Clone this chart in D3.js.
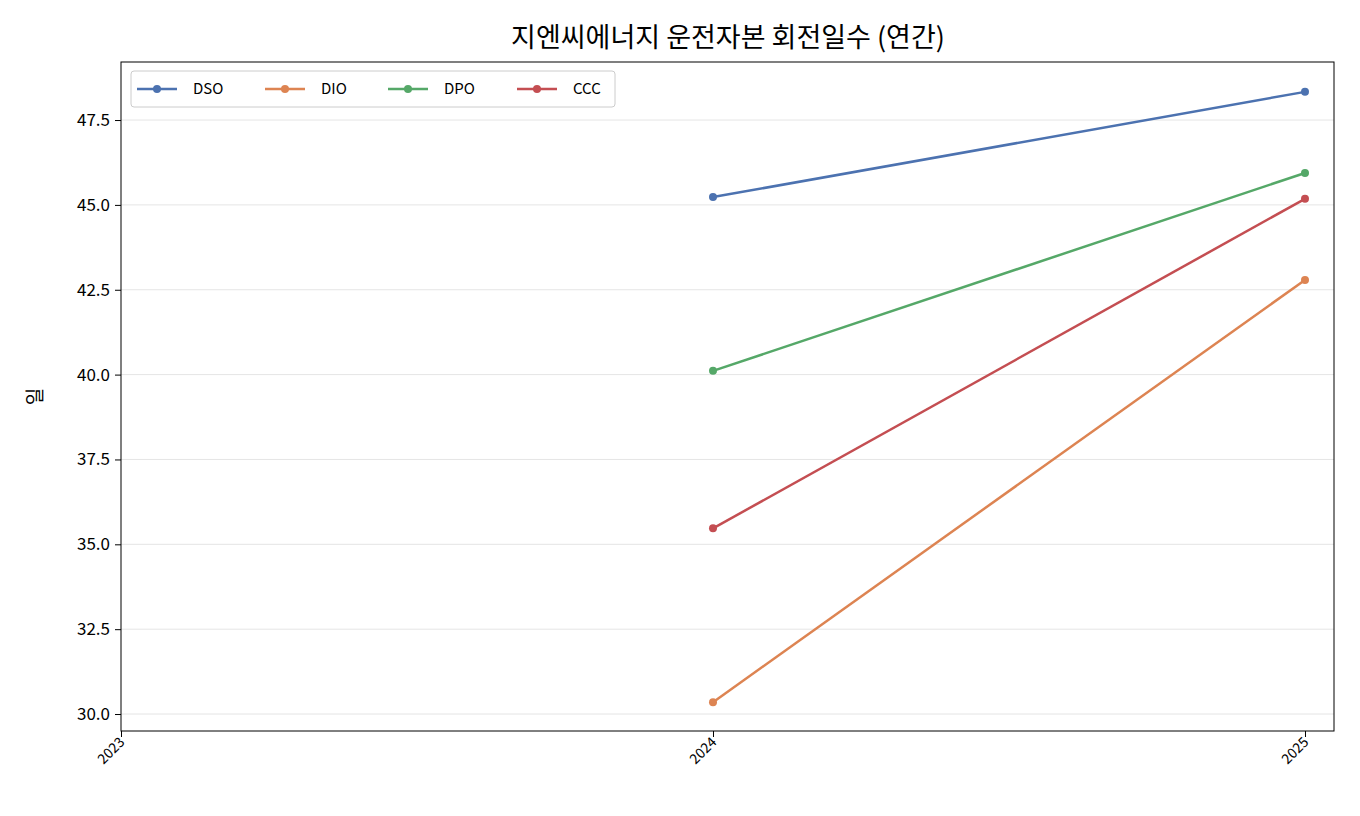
<!DOCTYPE html>
<html><head><meta charset="utf-8">
<script src="https://cdn.jsdelivr.net/npm/d3@7"></script>
<style>body{margin:0;background:#fff}text{font-family:"Noto Sans CJK KR","Noto Sans",sans-serif}</style>
</head><body><div id="chart"></div>
<script>
var years = [2024, 2025];
var xTicks = [2023, 2024, 2025];
var yTicks = [30.0, 32.5, 35.0, 37.5, 40.0, 42.5, 45.0, 47.5];
var seriesNames = ["DSO", "DIO", "DPO", "CCC"];
var seriesColors = ["#4c72b0", "#dd8452", "#55a868", "#c44e52"];
var dso = [45.23, 48.33];
var dio = [30.35, 42.79];
var dpo = [40.11, 45.94];
var ccc = [35.47, 45.18];
var seriesValues = [dso, dio, dpo, ccc];

var W = 1360, H = 816;
var margin = {top: 62, right: 26, bottom: 85, left: 121};
var svg = d3.select("#chart").append("svg").attr("width", W).attr("height", H);
var x = d3.scaleLinear().domain([2023, 2025.049]).range([margin.left, W - margin.right]);
var y = d3.scaleLinear().domain([29.5, 49.21]).range([H - margin.bottom, margin.top]);

//grid
svg.append("g").selectAll("line").data(yTicks).enter().append("line")
	.attr("x1", margin.left).attr("x2", W - margin.right)
	.attr("y1", y).attr("y2", y).attr("stroke", "#e5e5e5").attr("stroke-width", 1);

var xAxis = svg.append("g").attr("transform", "translate(0," + (H - margin.bottom) + ")")
	.call(d3.axisBottom(x).tickValues(xTicks).tickFormat(d3.format("d")).tickSize(6));
xAxis.selectAll("text").attr("font-size", 14).attr("text-anchor", "end")
	.attr("y", 0).attr("dy", 0)
	.attr("transform", "translate(4,12) rotate(-45)");
var yAxis = svg.append("g").attr("transform", "translate(" + margin.left + ",0)")
	.call(d3.axisLeft(y).tickValues(yTicks).tickFormat(d3.format(".1f")).tickSize(6).tickPadding(5));
yAxis.selectAll("text").attr("font-size", 17);
svg.selectAll(".domain").remove();
svg.append("rect").attr("x", margin.left).attr("y", margin.top)
	.attr("width", W - margin.right - margin.left).attr("height", H - margin.bottom - margin.top)
	.attr("fill", "none").attr("stroke", "#000");

var line = d3.line().x(function(d, i){return x(years[i]);}).y(function(d){return y(d);});
seriesValues.forEach(function(vals, k){
	svg.append("path").datum(vals).attr("d", line).attr("fill", "none")
		.attr("stroke", seriesColors[k]).attr("stroke-width", 2.5);
	svg.selectAll(null).data(vals).enter().append("circle")
		.attr("cx", function(d, i){return x(years[i]);}).attr("cy", y).attr("r", 4)
		.attr("fill", seriesColors[k]);
});

//legend
var lg = svg.append("g");
lg.append("rect").attr("x", 131).attr("y", 71).attr("width", 484).attr("height", 36)
	.attr("rx", 3).attr("fill", "#fff").attr("stroke", "#ccc");
var lx = [137, 265, 388, 517];
seriesNames.forEach(function(n, k){
	lg.append("line").attr("x1", lx[k]).attr("x2", lx[k] + 40).attr("y1", 89).attr("y2", 89)
		.attr("stroke", seriesColors[k]).attr("stroke-width", 2.5);
	lg.append("circle").attr("cx", lx[k] + 20).attr("cy", 89).attr("r", 4).attr("fill", seriesColors[k]);
	lg.append("text").attr("x", lx[k] + 56).attr("y", 94).attr("font-size", 15).text(n);
});

svg.append("text").attr("x", 728).attr("y", 47)
	.attr("text-anchor", "middle").attr("font-size", 27).text("지엔씨에너지 운전자본 회전일수 (연간)");
svg.append("text").attr("transform", "translate(42," + ((margin.top + H - margin.bottom) / 2) + ") rotate(-90)")
	.attr("text-anchor", "middle").attr("font-size", 19).text("일");
</script></body></html>
